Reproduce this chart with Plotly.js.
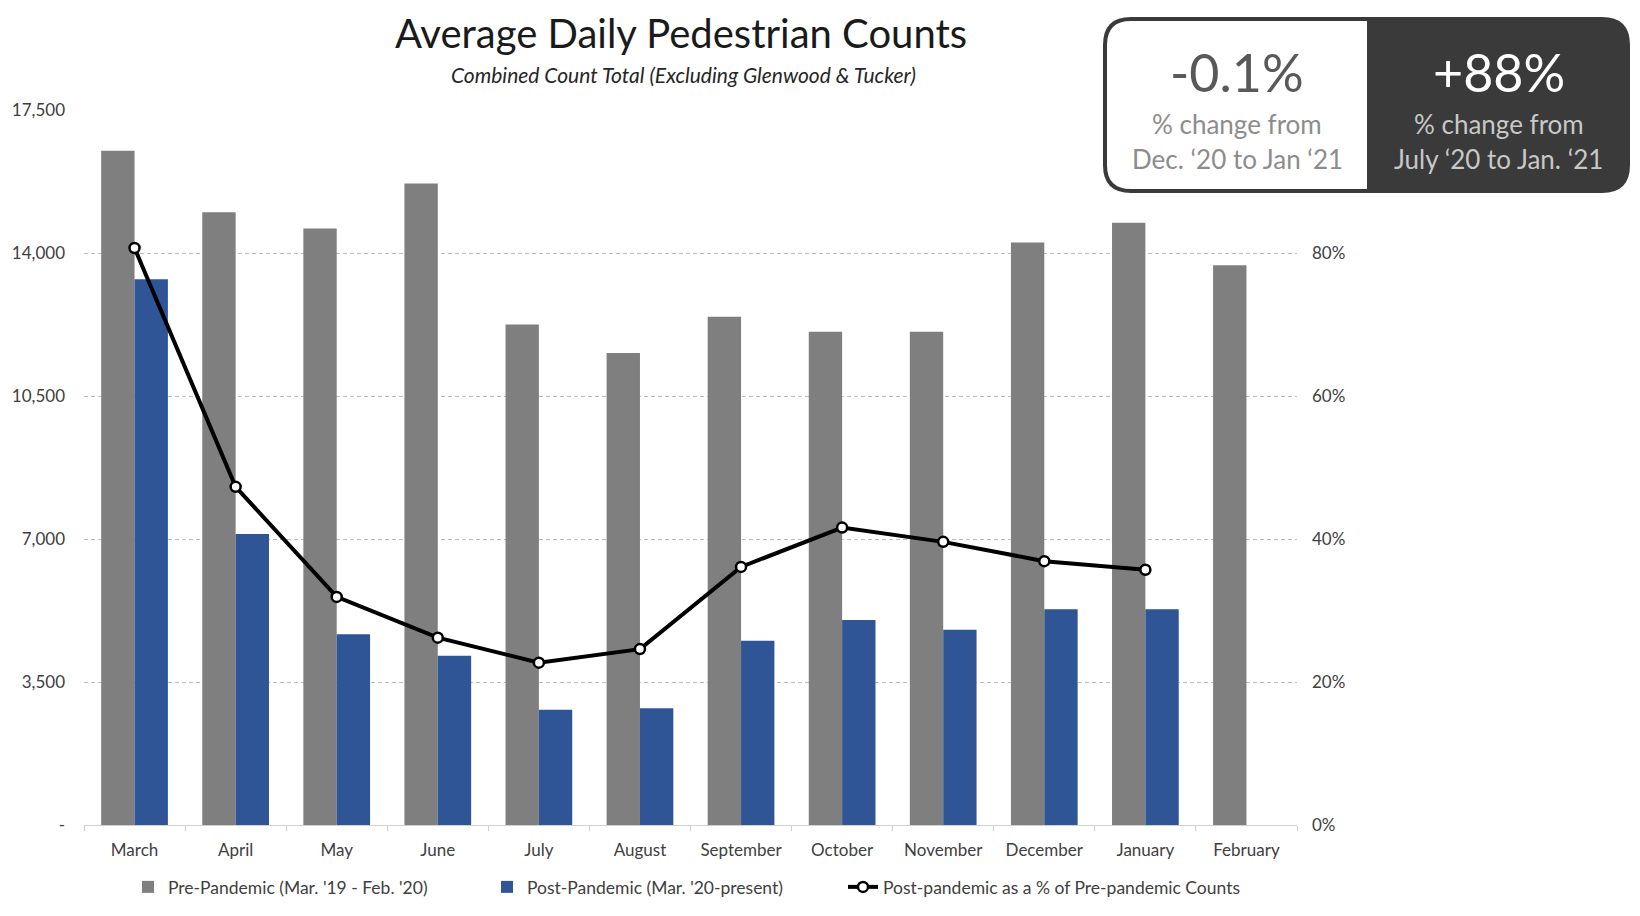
<!DOCTYPE html>
<html>
<head>
<meta charset="utf-8">
<script src="https://cdn.plot.ly/plotly-3.0.1.min.js"></script>
<style>html,body{margin:0;padding:0;background:#fff;}#chart{width:1640px;height:916px;}</style>
</head>
<body>
<div id="chart"></div>
<script>
// ---- data ----
const months = ['March','April','May','June','July','August','September','October','November','December','January','February'];
const prePandemic = [16500, 15000, 14600, 15700, 12250, 11550, 12440, 12070, 12070, 14260, 14740, 13700];
const postPandemic = [13360, 7120, 4670, 4140, 2820, 2860, 4510, 5020, 4780, 5280, 5280, null];
const pctOfPre = [0.807, 0.473, 0.319, 0.262, 0.227, 0.246, 0.361, 0.416, 0.396, 0.369, 0.357, null];
const leftTickVals = [0, 3500, 7000, 10500, 14000, 17500];
const leftTickText = ['-', '3,500', '7,000', '10,500', '14,000', '17,500'];
const rightTickVals = [0, 0.2, 0.4, 0.6, 0.8];
const rightTickText = ['0%', '20%', '40%', '60%', '80%'];
const seriesNames = ["Pre-Pandemic (Mar. '19 - Feb. '20)", "Post-Pandemic (Mar. '20-present)", "Post-pandemic as a % of Pre-pandemic Counts"];
const titleText = 'Average Daily Pedestrian Counts';
const subtitleText = 'Combined Count Total (Excluding Glenwood & Tucker)';
const boxBig = ['-0.1%', '+88%'];
const boxLine1 = ['% change from', '% change from'];
const boxLine2 = ['Dec. \u201820 to Jan \u201821', 'July \u201820 to Jan. \u201821'];

// ---- layout geometry (pixels) ----
const W = 1640, H = 916;
const L = 84, R = 1297, T = 110, B = 825;
const PW = R - L, PH = B - T;
const X = px => (px - L) / PW;
const Y = py => (B - py) / PH;
function roundedPath(x0, y0, x1, y1, rTL, rTR, rBR, rBL) {
  const p = (a, b) => X(a).toFixed(5) + ',' + Y(b).toFixed(5);
  return 'M' + p(x0 + rTL, y0) + ' L' + p(x1 - rTR, y0) +
    ' Q' + p(x1, y0) + ' ' + p(x1, y0 + rTR) +
    ' L' + p(x1, y1 - rBR) + ' Q' + p(x1, y1) + ' ' + p(x1 - rBR, y1) +
    ' L' + p(x0 + rBL, y1) + ' Q' + p(x0, y1) + ' ' + p(x0, y1 - rBL) +
    ' L' + p(x0, y0 + rTL) + ' Q' + p(x0, y0) + ' ' + p(x0 + rTL, y0) + ' Z';
}
const bx0 = 1105, bx1 = 1628, bmid = 1369, by0 = 19, by1 = 191, rad = 26;
const FONT = 'Lato, "Open Sans", sans-serif';

const traces = [
  {type: 'bar', name: seriesNames[0], x: months, y: prePandemic, marker: {color: '#7f7f7f'}, hoverinfo: 'skip', legend: 'legend'},
  {type: 'bar', name: seriesNames[1], x: months, y: postPandemic, marker: {color: '#2f5597'}, hoverinfo: 'skip', legend: 'legend2'},
  {type: 'scatter', mode: 'lines+markers', name: seriesNames[2], x: months, y: pctOfPre, yaxis: 'y2', legend: 'legend3',
   line: {color: '#000', width: 4}, marker: {symbol: 'circle', size: 10, color: '#fff', line: {color: '#000', width: 2.5}},
   hoverinfo: 'skip'}
];

const annotations = [
  {xref: 'paper', yref: 'paper', x: X(683), y: Y(74), text: '<i>' + subtitleText + '</i>', showarrow: false,
   font: {family: FONT, size: 21, color: '#262626'}, xanchor: 'center', yanchor: 'middle'}
];
const centers = [(bx0 + bmid) / 2, (bmid + bx1) / 2];
const bigCol = ['#595959', '#ffffff'];
const smallCol = ['#8c8c8c', '#c8c8c8'];
for (let i = 0; i < 2; i++) {
  annotations.push({xref: 'paper', yref: 'paper', x: X(centers[i]), y: Y(72), text: boxBig[i], showarrow: false,
    font: {family: FONT, size: 52, color: bigCol[i]}, xanchor: 'center', yanchor: 'middle'});
  annotations.push({xref: 'paper', yref: 'paper', x: X(centers[i]), y: Y(124), text: boxLine1[i], showarrow: false,
    font: {family: FONT, size: 26, color: smallCol[i]}, xanchor: 'center', yanchor: 'middle'});
  annotations.push({xref: 'paper', yref: 'paper', x: X(centers[i]), y: Y(159), text: boxLine2[i], showarrow: false,
    font: {family: FONT, size: 26, color: smallCol[i]}, xanchor: 'center', yanchor: 'middle'});
}

const shapes = [
  {type: 'path', xref: 'paper', yref: 'paper', layer: 'above', path: roundedPath(bmid, by0, bx1, by1, 0, rad, rad, 0),
   fillcolor: '#3a3a3a', line: {color: '#3a3a3a', width: 4}},
  {type: 'path', xref: 'paper', yref: 'paper', layer: 'above', path: roundedPath(bx0, by0, bmid, by1, rad, 0, 0, rad),
   fillcolor: '#ffffff', line: {color: '#3a3a3a', width: 4}}
];

function legendAt(px) {
  return {orientation: 'h', xref: 'container', yref: 'container', x: px / W, y: 1 - 887 / H, xanchor: 'left', yanchor: 'middle',
          font: {family: FONT, size: 17.5, color: '#404040'}, bgcolor: 'rgba(0,0,0,0)'};
}

const layout = {
  width: W, height: H,
  paper_bgcolor: '#fff', plot_bgcolor: '#fff',
  margin: {l: L, r: W - R, t: T, b: H - B, pad: 0, autoexpand: false},
  font: {family: FONT, color: '#595959'},
  title: {text: titleText, font: {family: FONT, size: 40, color: '#1a1a1a'},
          xref: 'container', yref: 'container', x: 681 / W, y: 1 - 34 / H, xanchor: 'center', yanchor: 'middle'},
  barmode: 'group', bargap: 0.34, bargroupgap: 0,
  showlegend: true,
  legend: legendAt(128),
  legend2: legendAt(487),
  legend3: legendAt(843),
  xaxis: {type: 'category', range: [-0.5, 11.5], automargin: false, showline: true, linecolor: '#d0d0d0', linewidth: 1,
          ticks: 'outside', tickson: 'boundaries', ticklen: 5, tickcolor: '#d0d0d0', showgrid: false,
          tickfont: {family: FONT, size: 17, color: '#404040'}, ticklabelstandoff: 10, fixedrange: true},
  yaxis: {automargin: false, range: [0, 17500], tickvals: leftTickVals, ticktext: leftTickText, showgrid: true, gridcolor: '#bdbdbd',
          griddash: '4px,3px', gridwidth: 1, zeroline: false, showline: false, ticks: '',
          tickfont: {family: FONT, size: 17, color: '#404040'}, ticklabelstandoff: 18, fixedrange: true},
  yaxis2: {automargin: false, overlaying: 'y', side: 'right', range: [0, 1], tickvals: rightTickVals, ticktext: rightTickText,
           showgrid: false, zeroline: false, showline: false, ticks: '',
           tickfont: {family: FONT, size: 17, color: '#404040'}, ticklabelstandoff: 14, fixedrange: true},
  annotations: annotations,
  shapes: shapes
};

Plotly.newPlot('chart', traces, layout, {displayModeBar: false, staticPlot: true});
</script>
</body>
</html>
